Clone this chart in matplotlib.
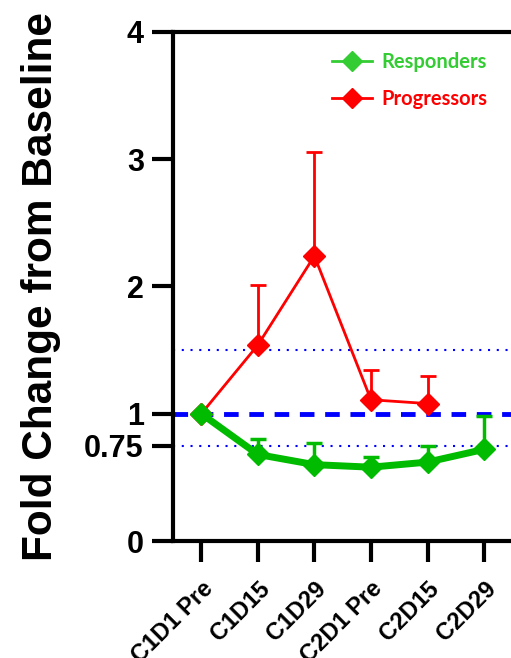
import numpy as np
import matplotlib.pyplot as plt
from matplotlib.lines import Line2D

plt.rcParams['font.family'] = ['Liberation Sans', 'DejaVu Sans']
plt.rcParams['font.weight'] = 'bold'

visits = ["C1D1 Pre", "C1D15", "C1D29", "C2D1 Pre", "C2D15", "C2D29"]

# fold change means and upper SEM (responders have all six visits)
resp_mean = [1.0, 0.68, 0.60, 0.58, 0.62, 0.72]
resp_err = [0.0, 0.12, 0.17, 0.08, 0.13, 0.26]

prog_mean = [1.0, 1.54, 2.24, 1.11, 1.08]
prog_err = [0.0, 0.47, 0.82, 0.23, 0.22]

yticks = [0, 0.75, 1, 2, 3, 4]
ref_dotted = [1.5, 0.75]
ref_dashed = 1.0

GREEN = "#00bb00"
LEG_GREEN = "#33cc33"
RED = "#ff0000"
BLUE = "#0000ff"

fig = plt.figure(figsize=(5.11, 6.58), dpi=100)
ax = fig.add_axes([0.3386, 0.1778, 0.664, 0.7736])

x_r = np.arange(len(resp_mean))
x_p = np.arange(len(prog_mean))

for y in ref_dotted:
    ax.axhline(y, color=BLUE, lw=1.5, ls=(0, (1, 3.2)), zorder=1)
ax.axhline(ref_dashed, color=BLUE, lw=3.5, ls=(0, (3, 2.2)), zorder=1)

ax.errorbar(x_p, prog_mean, yerr=[np.zeros(len(prog_err)), prog_err],
            color=RED, lw=2, marker="D", ms=11, capsize=6, capthick=2,
            elinewidth=2, zorder=3)
ax.errorbar(x_r, resp_mean, yerr=[np.zeros(len(resp_err)), resp_err],
            color=GREEN, lw=5, marker="D", ms=11, capsize=6, capthick=2.5,
            elinewidth=2.5, zorder=4)

ax.set_xlim(-0.5, 5.5)
ax.set_ylim(0, 4)
ax.set_yticks(yticks)
ax.set_yticklabels([f"{t:g}" for t in yticks], fontsize=22, fontweight="bold")
ax.set_xticks(x_r)
ax.set_xticklabels(visits, rotation=45, ha="right", rotation_mode="anchor",
                   fontsize=17, fontweight="bold")

ax.spines["right"].set_visible(False)
for s in ["left", "bottom", "top"]:
    ax.spines[s].set_linewidth(3)
ax.tick_params(axis="y", length=15, width=3, pad=6)
ax.tick_params(axis="x", length=15, width=3, pad=11)

ax.set_ylabel("Fold Change from Baseline", fontsize=30.5, fontweight="bold",
              labelpad=17)

handles = [
    Line2D([], [], color=LEG_GREEN, lw=2, marker="D", ms=10),
    Line2D([], [], color=RED, lw=2, marker="D", ms=10),
]
leg = ax.legend(handles, ["Responders", "Progressors"], loc="upper right",
                frameon=False, prop={"family": "Lato", "size": 14.5, "weight": "bold"},
                bbox_to_anchor=(0.98, 0.997), handlelength=2.0, labelspacing=0.85,
                handletextpad=0.45)
leg.get_texts()[0].set_color(LEG_GREEN)
leg.get_texts()[1].set_color(RED)

fig.savefig("out.png", dpi=100)
